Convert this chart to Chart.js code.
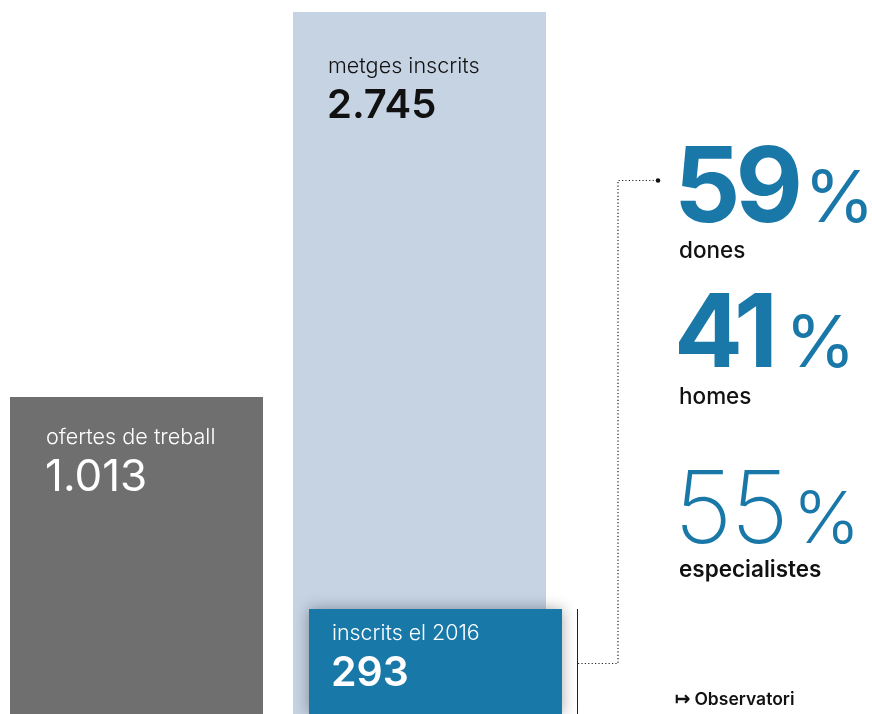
<!DOCTYPE html>
<html><head><meta charset="utf-8">
<script src="https://cdn.jsdelivr.net/npm/chart.js@4.4.1/dist/chart.umd.min.js"></script>
<style>html,body{margin:0;padding:0;background:#fff;overflow:hidden}#wrap{width:872px;height:714px;position:relative}</style>
</head><body><div id="wrap"><canvas id="c" width="872" height="714"></canvas></div>
<script>
// ---- data ----
const categories = ['ofertes de treball', 'metges inscrits'];
const totals = [1013, 2745];
const totalLabels = ['1.013', '2.745'];
const inscrits2016 = [null, 293];
const inscritsCaption = 'inscrits el 2016';
const inscritsLabels = [null, '293'];
const shareValues = [59, 41, 55];
const shareLabels = ['dones', 'homes', 'especialistes'];
const sourceText = 'Observatori';

// ---- styles ----
const barColors = ['#6f6f6f', '#c5d3e3'];
const inscritsColor = '#1878a8';
const blue = '#1a78a8';
const FONT = 'Inter, "Noto Sans", sans-serif';

const overlay = {
  id: 'overlay',
  beforeDatasetDraw(chart, args) {
    if (args.index === 1) return false;
  },
  afterDatasetsDraw(chart) {
    const ctx = chart.ctx;
    const m0 = chart.getDatasetMeta(0);
    const m1 = chart.getDatasetMeta(1);
    // overlaid 2016 bar with soft shadow
    ctx.save();
    ctx.beginPath();
    ctx.rect(0, chart.chartArea.top, chart.width, chart.chartArea.height);
    ctx.clip();
    ctx.shadowColor = 'rgba(0,0,0,0.35)';
    ctx.shadowBlur = 14;
    m1.data.forEach((el, i) => { if (inscrits2016[i] != null) el.draw(ctx); });
    ctx.restore();

    ctx.save();
    ctx.textBaseline = 'alphabetic';
    ctx.textAlign = 'left';
    // labels inside total bars
    const labelStyle = [
      {dx: 37, cap: 47, num: 94, color: '#fff', numWeight: 400, numSize: 44},
      {dx: 36, cap: 61, num: 106, color: '#111', numWeight: 600, numSize: 40}
    ];
    m0.data.forEach((el, i) => {
      const s = labelStyle[i];
      const left = el.x - el.width / 2;
      ctx.fillStyle = s.color;
      ctx.font = '300 21.6px ' + FONT;
      ctx.fillText(categories[i], left + s.dx - 1, el.y + s.cap);
      ctx.font = s.numWeight + ' ' + s.numSize + 'px ' + FONT;
      ctx.fillText(totalLabels[i], left + s.dx - 2, el.y + s.num);
    });
    // labels inside 2016 bar
    let bar3 = null;
    m1.data.forEach((el, i) => {
      if (inscrits2016[i] == null) return;
      bar3 = el;
      const left = el.x - el.width / 2;
      ctx.fillStyle = '#fff';
      ctx.font = '300 21.4px ' + FONT;
      ctx.fillText(inscritsCaption, left + 23, el.y + 31);
      ctx.font = '600 41px ' + FONT;
      ctx.fillText(inscritsLabels[i], left + 22, el.y + 77);
    });
    // connector
    if (bar3) {
      const lx = bar3.x + bar3.width / 2 + 15;
      ctx.strokeStyle = '#222';
      ctx.lineWidth = 1;
      ctx.beginPath();
      ctx.moveTo(lx + 0.5, bar3.y);
      ctx.lineTo(lx + 0.5, chart.chartArea.bottom);
      ctx.stroke();
      const cy = bar3.y + 54.5;
      ctx.setLineDash([1.2, 2.2]);
      ctx.lineWidth = 1.2;
      ctx.beginPath();
      ctx.moveTo(lx + 1, cy);
      ctx.lineTo(lx + 41, cy);
      ctx.lineTo(lx + 41, 180.5);
      ctx.lineTo(lx + 80, 180.5);
      ctx.stroke();
      ctx.setLineDash([]);
      ctx.fillStyle = '#111';
      ctx.beginPath();
      ctx.arc(lx + 81, 180.5, 2.3, 0, Math.PI * 2);
      ctx.fill();
    }
    // right-hand shares
    const rx = 677;
    const rows = [
      {base: 222, lab: 258, numW: 700, numS: 104, ls: -5, pctW: 400, gap: 6, labW: 500},
      {base: 367, lab: 404, numW: 700, numS: 102, ls: -5, pctW: 400, gap: 12, labW: 500},
      {base: 543, lab: 577, numW: 200, numS: 101, ls: -2, pctW: 300, gap: 6, labW: 600}
    ];
    shareValues.forEach((v, i) => {
      const r = rows[i];
      ctx.fillStyle = blue;
      ctx.font = r.numW + ' ' + r.numS + 'px ' + FONT;
      ctx.letterSpacing = r.ls + 'px';
      const t = String(v);
      ctx.fillText(t, rx - 3, r.base);
      const w = ctx.measureText(t).width;
      ctx.letterSpacing = '0px';
      ctx.font = r.pctW + ' 72px ' + FONT;
      ctx.fillText('%', rx - 3 + w + r.gap, r.base);
      ctx.fillStyle = '#111';
      ctx.font = r.labW + ' 22.5px ' + FONT;
      ctx.fillText(shareLabels[i], rx + 2, r.lab);
    });
    ctx.fillStyle = '#111';
    ctx.font = '600 17.5px ' + FONT;
    ctx.fillText('\u21A6 ' + sourceText, 675, 705);
    ctx.restore();
  }
};

new Chart(document.getElementById('c'), {
  type: 'bar',
  data: {
    labels: categories,
    datasets: [
      {
        label: 'total',
        data: totals,
        backgroundColor: barColors,
        yAxisID: 'y',
        base: -413,
        categoryPercentage: 32 / 283,
        barPercentage: 253 / 16,
        borderWidth: 0
      },
      {
        label: inscritsCaption,
        data: inscrits2016,
        backgroundColor: inscritsColor,
        yAxisID: 'y2',
        categoryPercentage: 32 / 283,
        barPercentage: 253 / 16,
        borderWidth: 0
      }
    ]
  },
  options: {
    responsive: false,
    animation: false,
    layout: {padding: {left: 3, right: 303, top: 12, bottom: 0}},
    scales: {
      x: {type: 'category', display: false, offset: true, grid: {display: false}},
      y: {display: false, min: -413, max: 2745},
      y2: {display: false, min: 0, max: 1959, position: 'right'}
    },
    plugins: {legend: {display: false}, tooltip: {enabled: false}}
  },
  plugins: [overlay]
});
</script>
</body></html>
